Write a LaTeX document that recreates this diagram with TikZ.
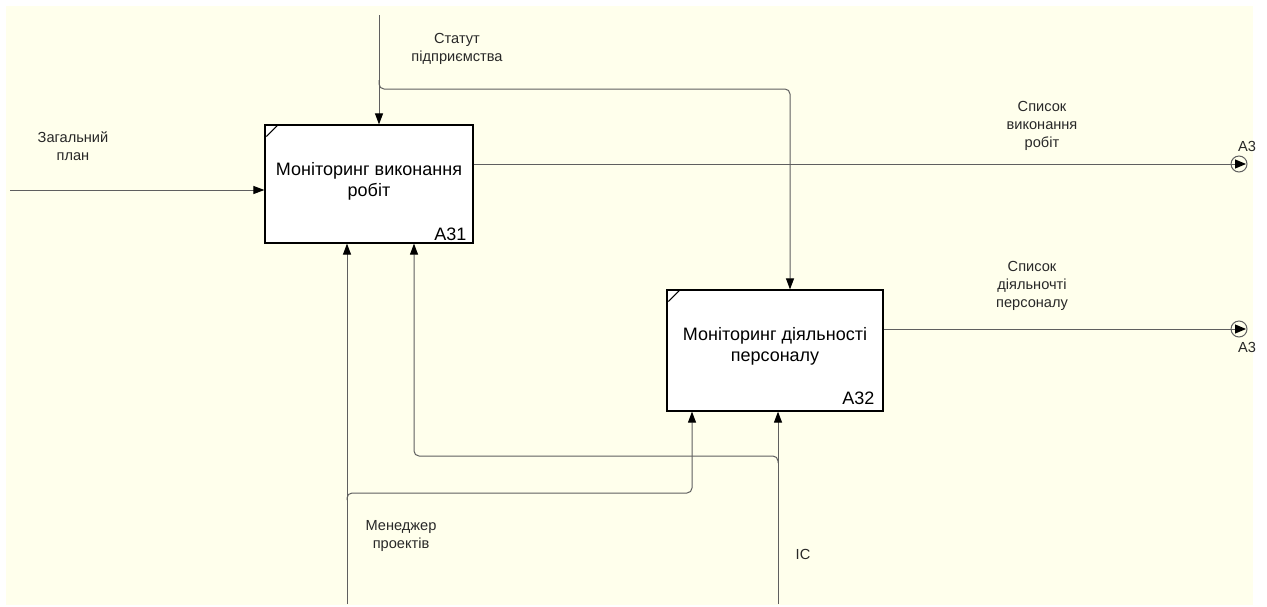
\documentclass[tikz,border=0pt]{standalone}
\usepackage{fontspec}
\setmainfont{Liberation Sans}
\usetikzlibrary{arrows.meta}
\definecolor{paper}{RGB}{255,255,236}
\definecolor{wire}{RGB}{95,95,95}
\definecolor{ink}{RGB}{40,40,40}
\begin{document}
\begin{tikzpicture}[x=1pt,y=-1pt,
  conn/.style={draw=wire, line width=1pt},
  tip/.style={-{Triangle[length=11pt,width=8pt,color=black]}},
  endtip/.style={-{Triangle[length=11pt,width=9pt,color=black]}},
  elbow/.style={conn, rounded corners=5pt},
  box/.style={draw=black, line width=1.2pt, fill=white, inner sep=0pt},
  boxtxt/.style={font=\fontsize{18}{21}\selectfont, align=center, text=black},
  lbl/.style={font=\fontsize{14.6}{18}\selectfont, align=center, text=ink},
  stub/.style={circle, draw=wire, line width=1pt, minimum size=16pt, inner sep=0pt}]

% page and sheet
\fill[white] (0,0) rectangle (1267,606);
\fill[paper] (6,6) rectangle (1253,605);
\useasboundingbox (0,0) rectangle (1267,606);

% activity boxes
\node[box, minimum width=208pt, minimum height=118pt] (a31) at (369,184) {};
\node[box, minimum width=216pt, minimum height=121pt] (a32) at (775,350.5) {};
\draw[line width=1pt] ([shift={(2pt,-12pt)}]a31.north west) -- ([xshift=14pt]a31.north west);
\draw[line width=1pt] ([shift={(2pt,-12pt)}]a32.north west) -- ([xshift=14pt]a32.north west);
\node[boxtxt] (a31t) at (369,181) {Моніторинг виконання\\робіт};
\node[boxtxt] (a32t) at (775,346) {Моніторинг діяльності\\персоналу};
\node[boxtxt, anchor=base east] (a31n) at (470,240) {A31};
\node[boxtxt, anchor=base east] (a32n) at (878,404) {A32};

% boundary tunnels on the right
\node[stub] (o1) at (1239,164) {};
\node[stub] (o2) at (1239,329) {};

% free ends of boundary arrows
\coordinate (inS) at (10,190);
\coordinate (ctlT) at (379,15);
\coordinate (ctlJ) at (379,80);
\coordinate (ctlK) at (790,89);
\coordinate (mgrB) at (347,604);
\coordinate (mgrJ) at (347,500);
\coordinate (mgrK) at (692,493);
\coordinate (isB) at (778,604);
\coordinate (isJ) at (778,463);
\coordinate (isK) at (414,456);

% input
\draw[conn, tip] (inS) -- (inS -| a31.west);
% control
\draw[conn, tip] (ctlT) -- (ctlT |- a31.north);
\draw[elbow, tip] (ctlJ) |- (ctlK) -- (ctlK |- a32.north);
% outputs
\draw[conn, endtip] (o1 -| a31.east) -- ([xshift=-1.5pt]o1.east);
\draw[conn, endtip] (o2 -| a32.east) -- ([xshift=-1.5pt]o2.east);
% mechanisms
\draw[conn, tip] (mgrB) -- (mgrB |- a31.south);
\draw[elbow, tip] (mgrJ) |- (mgrK) -- (mgrK |- a32.south);
\draw[conn, tip] (isB) -- (isB |- a32.south);
\draw[elbow, tip] (isJ) |- (isK) -- (isK |- a31.south);

% arrow labels
\node[lbl] (l1) at (73,146) {Загальний\\план};
\node[lbl] (l2) at (457,49) {Статут\\підприємства};
\node[lbl] (l3) at (1042,126) {Список\\виконання\\робіт};
\node[lbl] (l4) at (1032,286) {Список\\діяльночті\\персоналу};
\node[lbl] (l5) at (401,536) {Менеджер\\проектів};
\node[lbl] (l6) at (803,554) {IC};
\node[lbl] (t1) at (1247,146) {A3};
\node[lbl] (t2) at (1247,347) {A3};
\end{tikzpicture}
\end{document}
